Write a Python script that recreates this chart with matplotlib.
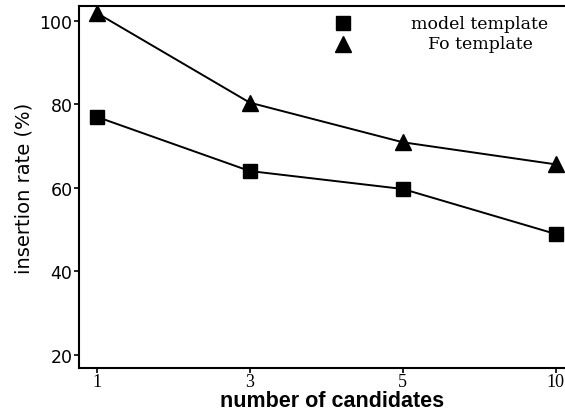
import matplotlib
matplotlib.use("Agg")
import matplotlib.pyplot as plt

categories = ["1", "3", "5", "10"]
model_template = [77, 64, 59.7, 48.9]
fo_template = [101.9, 80.4, 70.9, 65.6]
y_ticks = [20, 40, 60, 80, 100]
series_labels = ["model template", "Fo template"]

W, H = 565, 414
fig = plt.figure(figsize=(W / 100, H / 100), dpi=100)
ax_left, ax_right_px = 78.7, 586.4
ax_top, ax_bot = 7.3, 369.3
ax = fig.add_axes([ax_left / W, (H - ax_bot) / H, (ax_right_px - ax_left) / W, (ax_bot - ax_top) / H])

x = list(range(len(categories)))
ax.plot(x, model_template, color="black", lw=1.4, marker="s", ms=10, clip_on=False)
ax.plot(x, fo_template, color="black", lw=1.4, marker="^", ms=11, clip_on=False)

ax.set_xlim(-0.118, 3.2)
ax.set_ylim(16.7, 103.5)
ax.set_xticks(x)
ax.set_xticklabels(categories, family="Liberation Serif", fontsize=13)
ax.set_yticks(y_ticks)
ax.set_yticklabels([str(v) for v in y_ticks], family="DejaVu Sans", fontsize=12.5)
ax.tick_params(axis="both", direction="out", length=3.5, width=1.2, pad=1)
ax.tick_params(axis="x", pad=0)

for s in ["left", "bottom", "top"]:
    ax.spines[s].set_linewidth(1.5)
ax.spines["right"].set_visible(False)

ax.set_ylabel("insertion rate (%)", family="DejaVu Sans", fontsize=14, labelpad=4)
ax.set_xlabel("number of candidates", family="Liberation Sans", fontweight="bold", fontsize=15.5, labelpad=0)

# legend drawn manually
ax.plot([0.5206], [0.9525], marker="s", ms=10, color="black", transform=ax.transAxes, clip_on=False)
ax.plot([0.5206], [0.8959], marker="^", ms=11, color="black", transform=ax.transAxes, clip_on=False)
ax.text(0.7904, 0.939, series_labels[0], transform=ax.transAxes, ha="center", va="baseline",
        family="DejaVu Serif", fontsize=12.5)
ax.text(0.7904, 0.884, series_labels[1], transform=ax.transAxes, ha="center", va="baseline",
        family="DejaVu Serif", fontsize=12.5)

fig.savefig("out.png", dpi=100)
